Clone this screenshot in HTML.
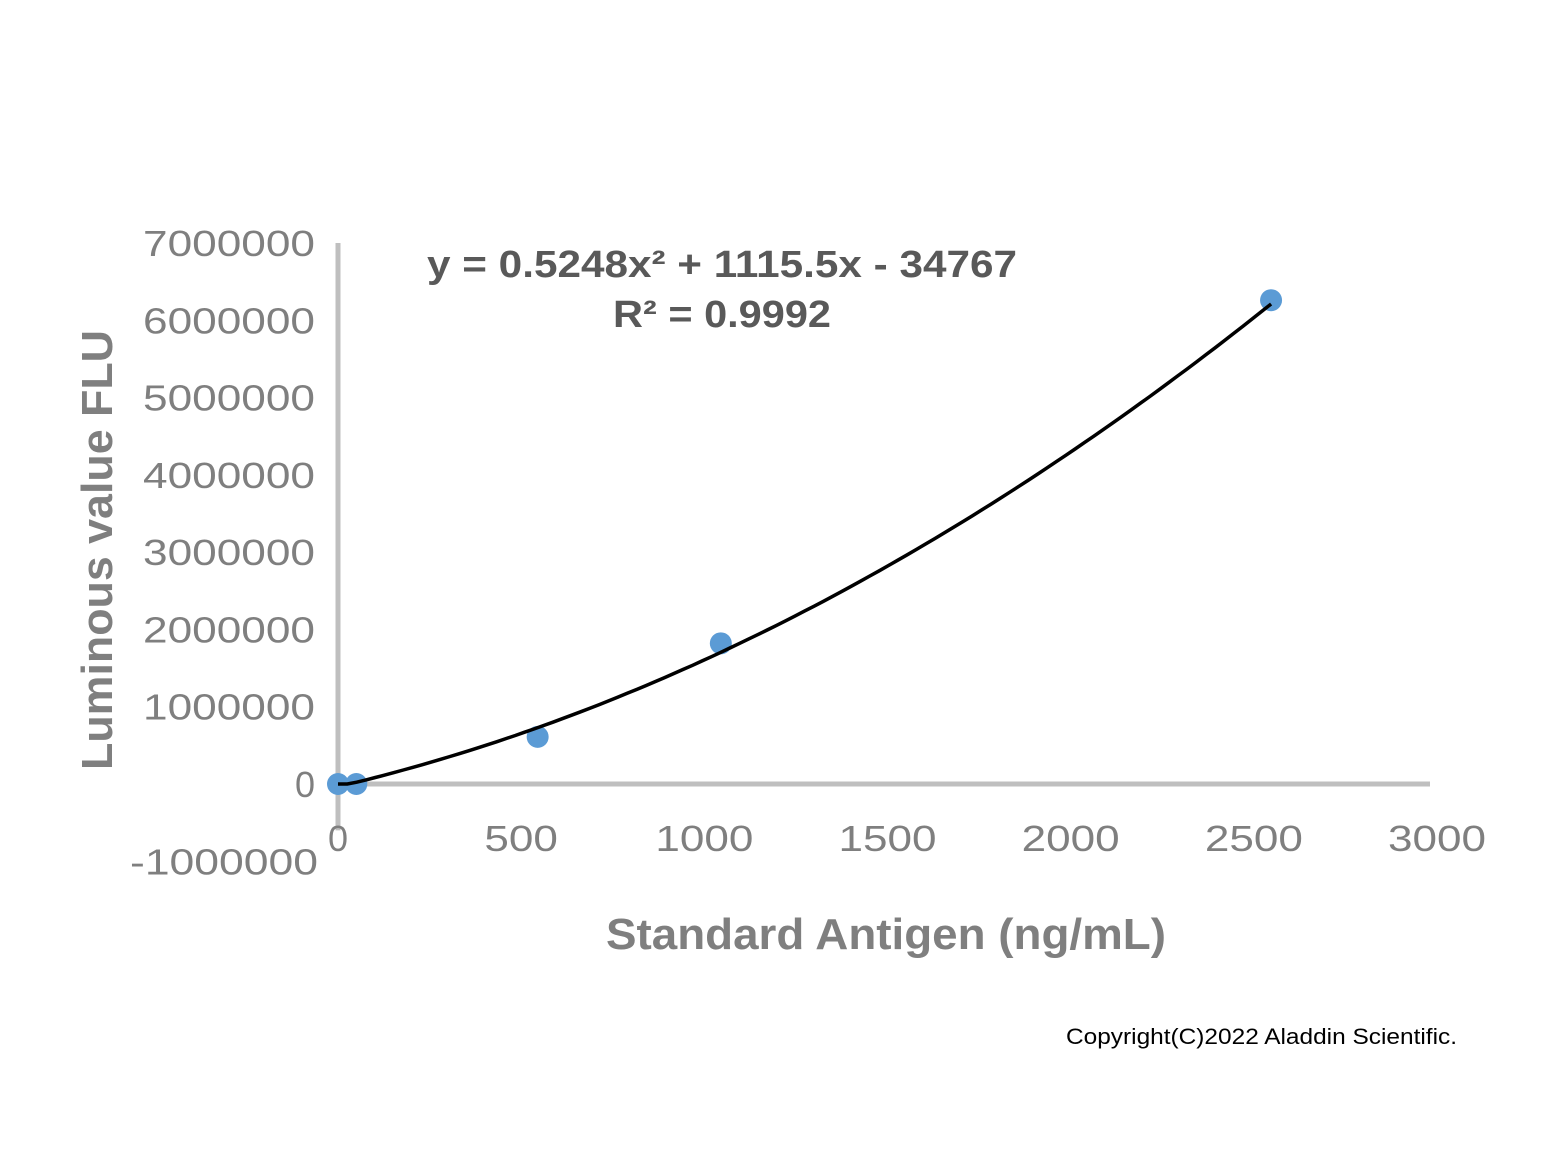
<!DOCTYPE html>
<html><head><meta charset="utf-8"><style>
html,body{margin:0;padding:0;background:#fff;}
svg{display:block;}
</style></head><body>
<svg id="chart" width="1559" height="1169" viewBox="0 0 1559 1169" xmlns="http://www.w3.org/2000/svg" font-family="'Liberation Sans', sans-serif">
<g id="axes"></g>
<g id="marks"></g>
<text x="722" y="277" text-anchor="middle" font-size="38" font-weight="bold" fill="#595959" textLength="590" lengthAdjust="spacingAndGlyphs">y = 0.5248x² + 1115.5x - 34767</text>
<text x="722" y="327" text-anchor="middle" font-size="38" font-weight="bold" fill="#595959" textLength="218" lengthAdjust="spacingAndGlyphs">R² = 0.9992</text>
<text transform="translate(112,550) rotate(-90)" text-anchor="middle" font-size="44" font-weight="bold" fill="#7f7f7f" textLength="440" lengthAdjust="spacingAndGlyphs">Luminous value FLU</text>
<text x="886" y="949" text-anchor="middle" font-size="44" font-weight="bold" fill="#7f7f7f" textLength="560" lengthAdjust="spacingAndGlyphs">Standard Antigen (ng/mL)</text>
<text x="1457" y="1044" text-anchor="end" font-size="22" fill="#000" textLength="391" lengthAdjust="spacingAndGlyphs">Copyright(C)2022 Aladdin Scientific.</text>
</svg>
<script>
const xTicks = [0, 500, 1000, 1500, 2000, 2500, 3000];
const yTicks = [-1000000, 0, 1000000, 2000000, 3000000, 4000000, 5000000, 6000000, 7000000];
const pointsX = [0, 50, 545, 1045, 2547];
const pointsY = [0, 0, 610000, 1820000, 6260000];
const coefA = 0.5248, coefB = 1115.5, coefC = -34767;
const fitMaxX = 2547;

const NS = 'http://www.w3.org/2000/svg';
const X0 = 338, XS = (1437 - 338) / 3000;
const Y0 = 784, YS = (784 - 243) / 7000000;
const sx = v => X0 + v * XS;
const sy = v => Y0 - v * YS;
const axes = document.getElementById('axes');
const marks = document.getElementById('marks');
function mk(tag, attrs, parent){const e=document.createElementNS(NS,tag);for(const k in attrs)e.setAttribute(k,attrs[k]);parent.appendChild(e);return e;}

const ya = mk('line',{x1:X0,y1:sy(7000000),x2:X0,y2:sy(-600000),stroke:'#bfbfbf','stroke-width':5},axes);


const xa = mk('line',{x1:X0,y1:Y0,x2:1430,y2:Y0,stroke:'#bfbfbf','stroke-width':5},axes);



xTicks.forEach(t=>{
  const e = mk('text',{x:sx(t),y:851,'text-anchor':'middle','font-size':36,fill:'#7f7f7f'},axes);
  e.textContent = t;
  const n = String(t).length;
  if(n>1){ e.setAttribute('textLength', n*24.5); e.setAttribute('lengthAdjust','spacingAndGlyphs'); }
  
  
});
yTicks.forEach(t=>{
  const e = mk('text',{x:t<0?318:315,y:sy(t)+13,'text-anchor':'end','font-size':36,fill:'#7f7f7f'},axes);
  e.textContent = t;
  const n = String(t).length;
  if(n>1){ e.setAttribute('textLength', t<0?188:172); e.setAttribute('lengthAdjust','spacingAndGlyphs'); }
  
  
});

let d='';
for(let i=0;i<=100;i++){
  const x = fitMaxX*i/100;
  const y = Math.max(0, coefA*x*x + coefB*x + coefC);
  d += (i?'L':'M') + sx(x).toFixed(1) + ' ' + sy(y).toFixed(1);
}
pointsX.forEach((px,i)=>{
  const c = mk('circle',{cx:sx(px),cy:sy(pointsY[i]),r:11,fill:'#5b9bd5'},marks);
  
  
});
const p = mk('path',{d:d,fill:'none',stroke:'#000','stroke-width':3.5},marks);


</script>
</body></html>
